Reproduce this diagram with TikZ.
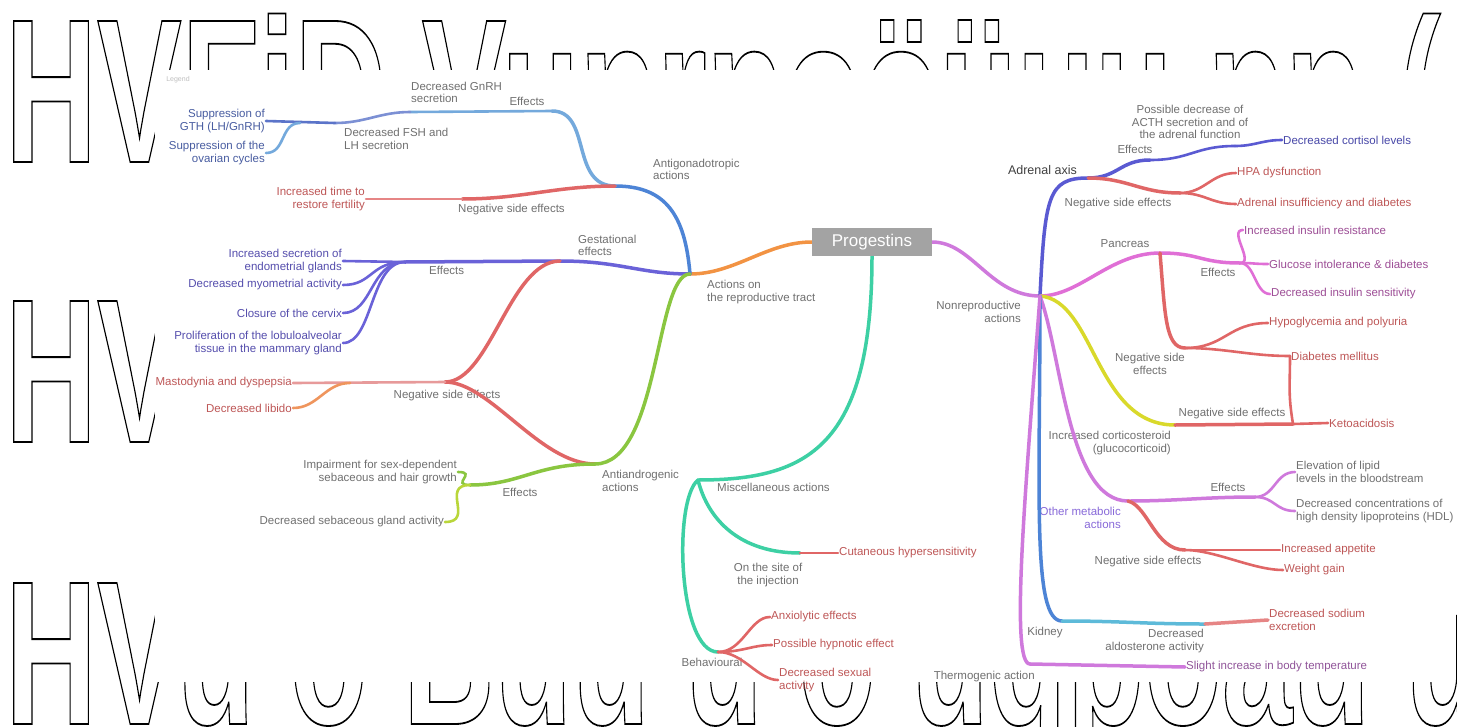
\documentclass[tikz,border=0pt]{standalone}
\usepackage{fontspec}
\setmainfont{Liberation Sans}
\usepackage{graphicx}

\definecolor{txt}{HTML}{707070}
\definecolor{rootgray}{HTML}{A3A3A3}
\definecolor{cOrange}{HTML}{F29343}
\definecolor{cBlue}{HTML}{4D84D6}
\definecolor{cSky}{HTML}{74A9DC}
\definecolor{cNavy}{HTML}{5B74C9}
\definecolor{cRed}{HTML}{E06666}
\definecolor{cRose}{HTML}{E79A9A}
\definecolor{cPurple}{HTML}{6A62D8}
\definecolor{cGreen}{HTML}{8AC640}
\definecolor{cLime}{HTML}{B9D63A}
\definecolor{cTeal}{HTML}{3DD0A4}
\definecolor{cOrchid}{HTML}{CF79DC}
\definecolor{cMagenta}{HTML}{E06FD6}
\definecolor{cYellow}{HTML}{D9D92B}
\definecolor{cCyan}{HTML}{5DBAD9}
\definecolor{cIndigo}{HTML}{5A5AD2}

\tikzset{
  lbl/.style={font=\fontsize{11.5}{12.5}\selectfont, text=txt, inner sep=1pt, align=left},
  rlbl/.style={lbl, align=right},
  clbl/.style={lbl, align=center},
  br/.style={line width=3.5pt, line cap=round},
  tw/.style={line width=2.6pt, line cap=round},
  root/.style={fill=rootgray, text=white, font=\fontsize{17}{17}\selectfont,
    minimum width=120pt, minimum height=28pt, inner sep=0pt},
  giant/.style={anchor=base west, inner sep=0pt,
    font=\fontsize{205}{205}\bfseries\selectfont},
}
% outlined letters (stroke only)
\newcommand{\bigrow}[1]{\special{pdf:literal direct 1 Tr 1.8 w 0 G}\scalebox{0.62}[1]{#1}\special{pdf:literal direct 0 Tr}}

\begin{document}
\begin{tikzpicture}[x=1pt,y=-1pt]
\useasboundingbox (0,0) rectangle (1457,726);
\clip (0,0) rectangle (1457,726);

% big letters behind the sheet
\node[giant] (rowA) at (5,162) {\bigrow{HVFiD Vunrnoöüuu nn (}};
\node[giant] (rowB) at (5,442) {\bigrow{HVunnou}};
\node[giant] (rowC) at (5,724) {\bigrow{HVu o Buu u o uqpoau uu u}};
\fill[white] (155,70) rectangle (1442,682);

\node[font=\fontsize{7}{7}\selectfont, text=black!25] (legend) at (178,80) {Legend};

% ---------------- left side
\node[root] (prog) at (872,242) {Progestins};
\coordinate (repro) at (690,274);
\coordinate (anti) at (615,186);
\coordinate (eff1) at (552,111);
\coordinate (gnrh) at (410,112);
\coordinate (fshlh) at (335,123);
\coordinate (split1) at (300,123);
\coordinate (neg1) at (462,199);
\coordinate (gest) at (560,261);
\coordinate (eff2) at (405,262);
\coordinate (neg2) at (445,382);
\coordinate (split2) at (350,383);
\coordinate (andro) at (595,464);
\coordinate (eff3) at (470,485);
\coordinate (misc) at (698,480);
\coordinate (site) at (800,553);
\coordinate (behav) at (718,652);

\node[lbl, anchor=north west] (reproL) at (706,279) {Actions on\\the reproductive tract};
\node[lbl, anchor=south west] (antiL) at (652,181) {Antigonadotropic\\actions};
\node[lbl, anchor=south] (eff1L) at (527,107) {Effects};
\node[lbl, anchor=south west] (gnrhL) at (410,104) {Decreased GnRH\\secretion};
\node[lbl, anchor=north west] (fshlhL) at (343,127) {Decreased FSH and\\LH secretion};
\node[rlbl, anchor=east, text=cNavy!80!black] (suppA) at (266,121) {Suppression of\\GTH (LH/GnRH)};
\node[rlbl, anchor=east, text=cNavy!80!black] (suppB) at (266,153) {Suppression of the\\ovarian cycles};
\node[lbl, anchor=north west] (neg1L) at (457,203) {Negative side effects};
\node[rlbl, anchor=east, text=cRed!85!black] (fert) at (366,199) {Increased time to\\restore fertility};

\node[lbl, anchor=south west] (gestL) at (577,257) {Gestational\\effects};
\node[lbl, anchor=north west] (eff2L) at (428,265) {Effects};
\node[rlbl, anchor=east, text=cPurple!80!black] (endo) at (343,261) {Increased secretion of\\endometrial glands};
\node[rlbl, anchor=east, text=cPurple!80!black] (myo) at (343,285) {Decreased myometrial activity};
\node[rlbl, anchor=east, text=cPurple!80!black] (cerv) at (343,313) {Closure of the cervix};
\node[rlbl, anchor=east, text=cPurple!80!black] (mamm) at (343,343) {Proliferation of the lobuloalveolar\\tissue in the mammary gland};
\node[lbl, anchor=north] (neg2L) at (447,389) {Negative side effects};
\node[rlbl, anchor=east, text=cRed!85!black] (mast) at (293,383) {Mastodynia and dyspepsia};
\node[rlbl, anchor=east, text=cRed!85!black] (libido) at (293,408) {Decreased libido};

\node[lbl, anchor=north west] (androL) at (601,469) {Antiandrogenic\\actions};
\node[lbl, anchor=north] (eff3L) at (520,487) {Effects};
\node[rlbl, anchor=east] (impair) at (458,472) {Impairment for sex-dependent\\sebaceous and hair growth};
\node[rlbl, anchor=east] (sebum) at (445,522) {Decreased sebaceous gland activity};

\node[lbl, anchor=north west] (miscL) at (716,482) {Miscellaneous actions};
\node[clbl, anchor=north] (siteL) at (768,562) {On the site of\\the injection};
\node[lbl, anchor=west, text=cRed!85!black] (cut) at (838,553) {Cutaneous hypersensitivity};
\node[lbl, anchor=north] (behavL) at (712,657) {Behavioural};
\node[lbl, anchor=west, text=cRed!85!black] (anxio) at (770,617) {Anxiolytic effects};
\node[lbl, anchor=west, text=cRed!85!black] (hypno) at (772,645) {Possible hypnotic effect};
\node[lbl, anchor=west, text=cRed!85!black] (sexual) at (778,680) {Decreased sexual\\activity};

\draw[br, cOrange] (prog.west) .. controls +(-45,0) and +(45,0) .. (repro);
\draw[br, cBlue] (repro) .. controls +(-5,-60) and +(50,0) .. (anti);
\draw[br, cSky] (anti) .. controls +(-45,0) and +(40,0) .. (eff1);
\draw[tw, cSky] (eff1) -- (gnrh);
\draw[tw, cNavy!80] (gnrh) .. controls +(-30,0) and +(30,0) .. (fshlh);
\draw[tw, cNavy] (fshlh) -- (suppA.east);
\draw[tw, cSky] (split1) .. controls +(-20,0) and +(20,0) .. (suppB.east);
\draw[br, cRed] (anti) .. controls +(-60,0) and +(60,0) .. (neg1);
\draw[tw, cRed!80] (neg1) -- (fert.east);

\draw[br, cPurple] (repro) .. controls +(-50,0) and +(60,0) .. (gest);
\draw[br, cPurple] (gest) -- (eff2);
\draw[tw, cPurple] (eff2) -- (endo.east);
\foreach \leaf in {myo, cerv, mamm}
  \draw[tw, cPurple] (eff2) .. controls +(-35,0) and +(30,0) .. (\leaf.east);
\draw[br, cRed] (gest) .. controls +(-50,0) and +(45,0) .. (neg2);
\draw[br, cRed] (andro) .. controls +(-55,0) and +(45,0) .. (neg2);
\draw[tw, cRose] (neg2) -- (mast.east);
\draw[tw, cOrange!70!cRose] (split2) .. controls +(-25,0) and +(25,0) .. (libido.east);

\draw[br, cGreen] (repro) .. controls +(-35,0) and +(65,0) .. (andro);
\draw[br, cGreen] (andro) .. controls +(-60,0) and +(50,0) .. (eff3);
\draw[tw, cGreen] (eff3) .. controls +(-20,0) and +(20,0) .. (impair.east);
\draw[tw, cLime] (eff3) .. controls +(-30,0) and +(30,0) .. (sebum.east);

\draw[br, cTeal] (prog.south) .. controls +(0,190) and +(110,0) .. (misc);
\draw[br, cTeal] (misc) .. controls +(10,40) and +(-60,0) .. (site);
\draw[tw, cRed] (site) -- (cut.west);
\draw[br, cTeal] (misc) .. controls +(-25,20) and +(-40,0) .. (behav);
\foreach \leaf in {anxio, hypno, sexual}
  \draw[tw, cRed] (behav) .. controls +(25,0) and +(-20,0) .. (\leaf.west);

% ---------------- right side
\coordinate (nonrep) at (1040,296);
\coordinate (adr) at (1088,178);
\coordinate (eff4) at (1150,160);
\coordinate (acth) at (1235,146);
\coordinate (neg4) at (1180,193);
\coordinate (panc) at (1160,253);
\coordinate (eff5) at (1240,263);
\coordinate (neg5) at (1185,348);
\coordinate (gluco) at (1175,425);
\coordinate (ketoJ) at (1293,424);
\coordinate (meta) at (1128,501);
\coordinate (eff6) at (1255,497);
\coordinate (neg7) at (1185,550);
\coordinate (kid) at (1062,621);
\coordinate (aldo) at (1205,624);
\coordinate (thermo) at (1030,664);

\node[rlbl, anchor=north east] (nonrepL) at (1022,300) {Nonreproductive\\actions};
\node[lbl, anchor=south east, text=black!75, font=\fontsize{12.5}{14}\selectfont] (adrL) at (1078,176) {Adrenal axis};
\node[lbl, anchor=south] (eff4L) at (1135,155) {Effects};
\node[clbl, anchor=south] (acthL) at (1190,140) {Possible decrease of\\ACTH secretion and of\\the adrenal function};
\node[lbl, anchor=west, text=cIndigo!80!black] (cort) at (1282,140) {Decreased cortisol levels};
\node[lbl, anchor=north] (neg4L) at (1118,197) {Negative side effects};
\node[lbl, anchor=west, text=cRed!85!black] (hpa) at (1236,173) {HPA dysfunction};
\node[lbl, anchor=west, text=cRed!85!black] (insuf) at (1236,204) {Adrenal insufficiency and diabetes};

\node[lbl, anchor=south] (pancL) at (1125,249) {Pancreas};
\node[lbl, anchor=north] (eff5L) at (1218,267) {Effects};
\node[lbl, anchor=west, text=cMagenta!70!black] (resist) at (1243,230) {Increased insulin resistance};
\node[lbl, anchor=west, text=cMagenta!70!black] (intol) at (1268,264) {Glucose intolerance \& diabetes};
\node[lbl, anchor=west, text=cMagenta!70!black] (sensit) at (1270,294) {Decreased insulin sensitivity};
\node[clbl, anchor=north] (neg5L) at (1150,352) {Negative side\\effects};
\node[lbl, anchor=west, text=cRed!85!black] (hypo) at (1268,323) {Hypoglycemia and polyuria};
\node[lbl, anchor=west, text=cRed!85!black] (diab) at (1290,356) {Diabetes mellitus};
\node[lbl, anchor=west, text=cRed!85!black] (keto) at (1328,423) {Ketoacidosis};
\node[rlbl, anchor=north east] (glucoL) at (1172,430) {Increased corticosteroid\\(glucocorticoid)};
\node[lbl, anchor=south] (neg6L) at (1232,420) {Negative side effects};

\node[rlbl, anchor=north east, text=cPurple!70!cOrchid] (metaL) at (1122,506) {Other metabolic\\actions};
\node[lbl, anchor=south] (eff6L) at (1228,493) {Effects};
\node[lbl, anchor=west] (lipid) at (1295,472) {Elevation of lipid\\levels in the bloodstream};
\node[lbl, anchor=west] (hdl) at (1295,511) {Decreased concentrations of\\high density lipoproteins (HDL)};
\node[lbl, anchor=north] (neg7L) at (1148,555) {Negative side effects};
\node[lbl, anchor=west, text=cRed!85!black] (appet) at (1280,550) {Increased appetite};
\node[lbl, anchor=west, text=cRed!85!black] (weight) at (1283,570) {Weight gain};

\node[lbl, anchor=north] (kidL) at (1045,626) {Kidney};
\node[rlbl, anchor=north east] (aldoL) at (1205,628) {Decreased\\aldosterone activity};
\node[lbl, anchor=west, text=cRed!85!black] (sodium) at (1268,620) {Decreased sodium\\excretion};
\node[rlbl, anchor=north east] (thermoL) at (1036,670) {Thermogenic action};
\node[lbl, anchor=west, text=cOrchid!70!black] (temp) at (1185,667) {Slight increase in body temperature};

\draw[br, cOrchid] (prog.east) .. controls +(40,0) and +(-50,0) .. (nonrep);
\draw[br, cIndigo] (nonrep) .. controls +(5,-100) and +(-40,0) .. (adr);
\draw[br, cIndigo] (adr) .. controls +(30,0) and +(-30,0) .. (eff4);
\draw[tw, cIndigo] (eff4) .. controls +(40,0) and +(-40,0) .. (acth);
\draw[tw, cIndigo] (acth) .. controls +(20,0) and +(-20,0) .. (cort.west);
\draw[br, cRed] (adr) .. controls +(40,0) and +(-40,0) .. (neg4);
\draw[tw, cRed] (neg4) .. controls +(25,0) and +(-25,0) .. (hpa.west);
\draw[tw, cRed] (neg4) .. controls +(25,0) and +(-25,0) .. (insuf.west);

\draw[br, cMagenta] (nonrep) .. controls +(40,0) and +(-50,0) .. (panc);
\draw[br, cMagenta] (panc) .. controls +(40,0) and +(-40,0) .. (eff5);
\foreach \leaf in {resist, intol, sensit}
  \draw[tw, cMagenta] (eff5) .. controls +(15,0) and +(-15,0) .. (\leaf.west);
\draw[br, cRed] (panc) .. controls +(5,60) and +(-20,0) .. (neg5);
\draw[tw, cRed] (neg5) .. controls +(40,0) and +(-40,0) .. (hypo.west);
\draw[tw, cRed] (neg5) .. controls +(40,0) and +(-40,0) .. (diab.west);
\draw[tw, cRed] (diab.west) .. controls +(0,30) and +(-5,-30) .. (ketoJ);
\draw[br, cYellow] (nonrep) .. controls +(55,4) and +(-80,0) .. (gluco);
\draw[br, cRed] (gluco) -- (ketoJ);
\draw[tw, cRed] (ketoJ) -- (keto.west);

\draw[br, cOrchid] (nonrep) .. controls +(22,60) and +(-60,0) .. (meta);
\draw[br, cOrchid] (meta) .. controls +(50,0) and +(-50,0) .. (eff6);
\draw[tw, cOrchid] (eff6) .. controls +(20,0) and +(-20,0) .. (lipid.west);
\draw[tw, cOrchid] (eff6) .. controls +(20,0) and +(-20,0) .. (hdl.west);
\draw[br, cRed] (meta) .. controls +(20,5) and +(-30,0) .. (neg7);
\draw[tw, cRed] (neg7) -- (appet.west);
\draw[tw, cRed] (neg7) .. controls +(30,0) and +(-30,0) .. (weight.west);

\draw[br, cBlue] (nonrep) .. controls +(0,200) and +(-30,0) .. (kid);
\draw[br, cCyan] (kid) .. controls +(60,0) and +(-60,0) .. (aldo);
\draw[br, cRed!80] (aldo) -- (sodium.west);
\draw[br, cOrchid] (nonrep) .. controls +(-15,200) and +(-20,0) .. (thermo);
\draw[br, cOrchid] (thermo) -- (temp.west);

\node[root] (progTop) at (prog) {Progestins};
\end{tikzpicture}
\end{document}
